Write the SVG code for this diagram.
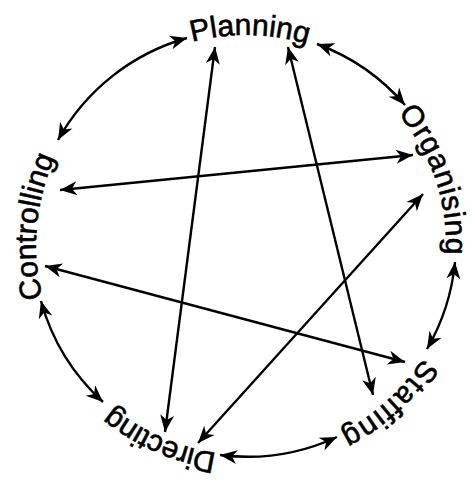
<svg xmlns="http://www.w3.org/2000/svg" width="475" height="489" viewBox="0 0 475 489">
<style>
.lbl{font-family:"Liberation Sans",Arial,sans-serif;font-size:30px;fill:#000;stroke:#000;stroke-width:0.6}
.c{fill:none;stroke:#000;stroke-width:2.4;marker-start:url(#ah);marker-end:url(#ah)}
</style>
<defs>
<marker id="ah" markerUnits="userSpaceOnUse" orient="auto-start-reverse" viewBox="-18 -8 19 16" refX="0" refY="0" markerWidth="19" markerHeight="16">
<path d="M0,0 L-17,-7 L-12,0 L-17,7 Z" fill="#000"/>
</marker>
<path id="ring" d="M64.13,350 A210,210 0 1,1 427.87,140 A210,210 0 1,1 64.13,350"/>
<path id="ringR" d="M339.9,67.4 A200,200 0 0,1 422.6,337.9"/>
</defs>
<rect width="475" height="489" fill="#fff"/>
<g id="connectors">
<path class="c" d="M58,140 A214,214 0 0,1 187,38"/>
<path class="c" d="M317,44 A214,214 0 0,1 405,105"/>
<path class="c" d="M455,262 A214,214 0 0,1 427,349"/>
<path class="c" d="M337,437 A214,214 0 0,1 220,455"/>
<path class="c" d="M103,402 A214,214 0 0,1 41,301"/>
<path class="c" d="M413,155 L60,190"/>
<path class="c" d="M423,194 L198,443"/>
<path class="c" d="M215,47 L165,432"/>
<path class="c" d="M288,47 L373,395"/>
<path class="c" d="M45,266 L405,362"/>
</g>
<g id="controlling"><text class="lbl"><textPath href="#ring" startOffset="128.3" text-anchor="middle">Controlling</textPath></text></g>
<g id="planning"><text class="lbl"><textPath href="#ring" startOffset="443.5" text-anchor="middle">Planning</textPath></text></g>
<g id="organising"><text class="lbl" letter-spacing="0.8"><textPath href="#ringR" startOffset="151" text-anchor="middle">Organising</textPath></text></g>
<g id="staffing"><text class="lbl" letter-spacing="1.6"><textPath href="#ring" startOffset="945.6" text-anchor="middle">Staffing</textPath></text></g>
<g id="directing"><text class="lbl" letter-spacing="-0.4"><textPath href="#ring" startOffset="1186" text-anchor="middle">Directing</textPath></text></g>
</svg>
